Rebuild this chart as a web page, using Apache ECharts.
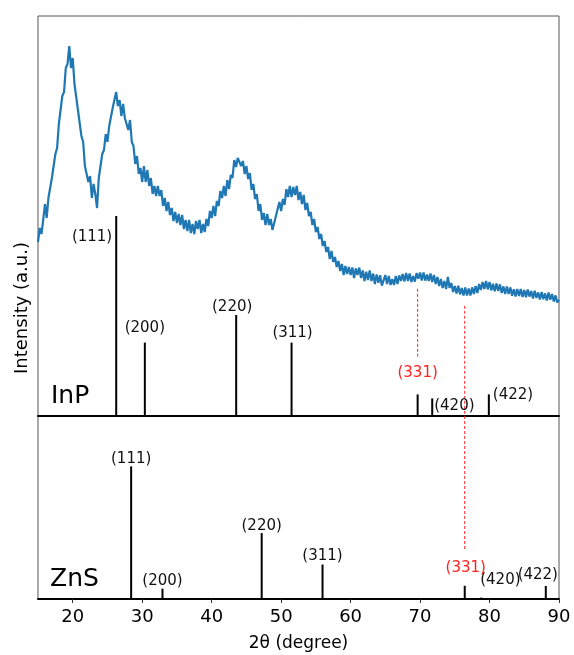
<!DOCTYPE html>
<html>
<head>
<meta charset="utf-8">
<script src="https://cdn.jsdelivr.net/npm/echarts@6/dist/echarts.min.js"></script>
<style>
  html, body { margin: 0; padding: 0; background: #fff; }
  #chart { width: 574px; height: 655px; }
</style>
</head>
<body>
<div id="chart"></div>
<script>
// Measured XRD scan, 2θ from 15° to 90° in 0.25° steps (a.u.)
const scanStart = 15;
const scanStep = 0.25;
const scanIntensity = [
  87, 94, 91, 98, 106, 99, 109, 110, 119, 118, 131, 134, 146, 147, 160, 162, 174, 176, 185, 174,
  179, 166, 165, 153, 152, 140, 137, 125, 126, 117, 120, 109, 116, 111, 104, 119, 119, 131, 133, 141,
  137, 145, 144, 154, 153, 162, 155, 158, 150, 156, 149, 150, 143, 148, 137, 135, 126, 130, 121, 124,
  117, 125, 117, 123, 115, 119, 111, 115, 110, 115, 110, 113, 105, 109, 102.5, 107, 100.5, 104, 97.5, 102,
  96.5, 101, 95.5, 100.5, 93.5, 98, 92.5, 98, 91.5, 96, 91, 97.5, 93.5, 98, 91.5, 96, 92, 98.5, 95, 102.5,
  99, 105, 100, 107.5, 105, 112.5, 109, 115, 110, 118, 113.5, 120.5, 119, 128, 124.5, 129, 130, 125, 127.5, 121,
  125, 118.5, 121.5, 113, 116, 108.5, 111, 102.5, 106, 98, 101.5, 95.5, 101, 95.5, 98.5, 93, 92, 100, 99, 107,
  102.5, 108.5, 105.5, 113.5, 109.5, 115, 109.5, 114.5, 110.5, 115, 108, 112, 106, 110.5, 103, 106.5, 100, 102, 95.5, 98.5,
  92, 94.5, 88.5, 91, 85, 87.5, 82, 84.5, 78.5, 82.5, 77, 79.5, 74.5, 77.5, 72.5, 76, 70.5, 75, 71, 74.5,
  70.5, 74.3, 69, 73.8, 70.5, 74.2, 69, 72.8, 67.5, 72.2, 68, 72.8, 67.5, 71.2, 66, 70.8, 66.6, 70.4, 65.2, 65.5,
  70.5, 66, 70, 65.5, 68.5, 65.5, 70, 66, 70.3, 67.5, 71, 67.3, 71.5, 67.5, 71.3, 67, 70, 67.2, 71.5, 68.7,
  71.7, 67.7, 71.7, 67.7, 70.7, 67.5, 71.3, 67, 70.5, 66, 69.5, 65, 68.5, 64, 67.5, 63.5, 69.5, 64, 66.5, 62,
  65, 61.3, 65.1, 60.8, 64, 60.3, 64.2, 60.2, 63.7, 60.2, 64.3, 61, 65, 61.5, 66, 63, 67, 63.5, 67.5, 63.3,
  67, 62.8, 66.1, 62.4, 66.2, 62.5, 65.8, 61.5, 64.8, 61, 64.8, 61, 64.3, 60.1, 63.4, 59.7, 63.5, 60, 63.5, 59.5,
  63, 59.4, 63.3, 59.7, 62.5, 58.8, 62.6, 59, 61.8, 58.2, 62, 58.4, 61.3, 57.8, 61.7, 58.1, 61, 57.2, 60.3, 56.8,
  58
];

// Reference reflections (relative intensity, strongest = 100)
const inpAngles    = [26.26, 30.38, 43.53, 51.5, 69.65, 71.75, 79.9];
const inpIntensity = [100, 36.7, 50.5, 36.7, 10.8, 8.8, 10.8];
const inpHkl       = ['(111)', '(200)', '(220)', '(311)', '(331)', '(420)', '(422)'];

const znsAngles    = [28.41, 32.92, 47.2, 55.96, 76.43, 78.8, 88.1];
const znsIntensity = [100, 7.8, 49.7, 26, 10, 1.1, 9.8];
const znsHkl       = ['(111)', '(200)', '(220)', '(311)', '(331)', '(420)', '(422)'];

// Dashed guides: [2θ, from, to] in each panel's intensity units
const inpGuides = [[69.65, 63.6, 29.7], [76.43, 55.1, 0]];
const znsGuides = [[76.43, 138, 37]];

const highlightHkl = ['(331)'];
const xTicks = [20, 30, 40, 50, 60, 70, 80, 90];

// Label placement next to each stick: [align, dx, dy] relative to the stick top (px)
const inpLabelPlace = [['right', -4, 21], ['center', 0, -14], ['center', -4, -8], ['center', 1, -9],
                       ['center', 0, -21], ['left', 2, 8], ['left', 4, 1]];
const znsLabelPlace = [['center', 0, -7], ['center', 0, -8], ['center', 0, -7], ['center', 0, -8],
                       ['center', 1, -18], ['left', -1, -17], ['center', -8, -11]];

const FONT = '"DejaVu Sans", sans-serif';
const RED = '#ff2020';

const chart = echarts.init(document.getElementById('chart'), null, { renderer: 'canvas' });

function stickSeries(idx, angles, heights, hkl, place) {
  return {
    type: 'custom',
    xAxisIndex: idx,
    yAxisIndex: idx,
    clip: false,
    z: 3,
    data: angles.map((a, i) => [a, heights[i], i]),
    encode: { x: 0, y: 1 },
    renderItem(params, api) {
      const i = api.value(2);
      const base = api.coord([api.value(0), 0]);
      const top = api.coord([api.value(0), api.value(1)]);
      const p = place[i];
      const red = highlightHkl.includes(hkl[i]);
      return {
        type: 'group',
        children: [
          { type: 'line', shape: { x1: base[0], y1: base[1], x2: top[0], y2: top[1] },
            style: { stroke: '#000', lineWidth: 2 } },
          { type: 'text', x: top[0] + p[1], y: top[1] + p[2],
            style: { text: hkl[i], fill: red ? RED : '#111', font: '15px ' + FONT,
                     align: p[0], verticalAlign: 'middle' } }
        ]
      };
    }
  };
}

function guideSeries(idx, guides) {
  return {
    type: 'custom',
    xAxisIndex: idx,
    yAxisIndex: idx,
    clip: false,
    z: 2,
    data: guides,
    encode: { x: 0, y: 1 },
    renderItem(params, api) {
      const a = api.coord([api.value(0), api.value(1)]);
      const b = api.coord([api.value(0), api.value(2)]);
      return { type: 'line', shape: { x1: a[0], y1: a[1], x2: b[0], y2: b[1] },
               style: { stroke: RED, lineWidth: 1, lineDash: [3, 2] } };
    }
  };
}

const boxColor = '#555';

chart.setOption({
  animation: false,
  tooltip: { show: false },
  axisPointer: { show: false },
  grid: [
    { left: 38, top: 16, width: 521, height: 400, show: true, borderColor: boxColor, borderWidth: 1 },
    { left: 38, top: 416, width: 521, height: 183, show: true, borderColor: boxColor, borderWidth: 1 }
  ],
  xAxis: [
    { gridIndex: 0, type: 'value', min: 15, max: 90,
      axisLine: { show: true, lineStyle: { color: '#000', width: 2 } },
      axisTick: { show: false }, axisLabel: { show: false }, splitLine: { show: false } },
    { gridIndex: 1, type: 'value', min: 15, max: 90,
      axisLine: { show: true, lineStyle: { color: '#000', width: 2 } },
      axisTick: { show: true, customValues: xTicks, length: 4, lineStyle: { color: '#333', width: 1 } },
      axisLabel: { show: true, customValues: xTicks, margin: 9, color: '#000', fontSize: 18, fontFamily: FONT },
      splitLine: { show: false },
      name: '2θ (degree)', nameLocation: 'middle', nameGap: 36,
      nameTextStyle: { color: '#000', fontSize: 17, fontFamily: FONT } }
  ],
  yAxis: [
    { gridIndex: 0, type: 'value', min: 0, max: 200, show: false },
    { gridIndex: 1, type: 'value', min: 0, max: 138, show: false }
  ],
  graphic: [
    { type: 'text', x: 22, y: 308, rotation: Math.PI / 2,
      style: { text: 'Intensity (a.u.)', font: '18px ' + FONT, fill: '#000', align: 'center', verticalAlign: 'middle' } },
    { type: 'text', x: 51, y: 396,
      style: { text: 'InP', font: '25px ' + FONT, fill: '#000', align: 'left', verticalAlign: 'middle' } },
    { type: 'text', x: 50, y: 579,
      style: { text: 'ZnS', font: '25px ' + FONT, fill: '#000', align: 'left', verticalAlign: 'middle' } }
  ],
  series: [
    { type: 'line', xAxisIndex: 0, yAxisIndex: 0, z: 4,
      data: scanIntensity.map((v, i) => [scanStart + i * scanStep, v]),
      showSymbol: false, symbol: 'none',
      lineStyle: { color: '#1f77b4', width: 2.2 } },
    guideSeries(0, inpGuides),
    guideSeries(1, znsGuides),
    stickSeries(0, inpAngles, inpIntensity, inpHkl, inpLabelPlace),
    stickSeries(1, znsAngles, znsIntensity, znsHkl, znsLabelPlace)
  ]
});
</script>
</body>
</html>
